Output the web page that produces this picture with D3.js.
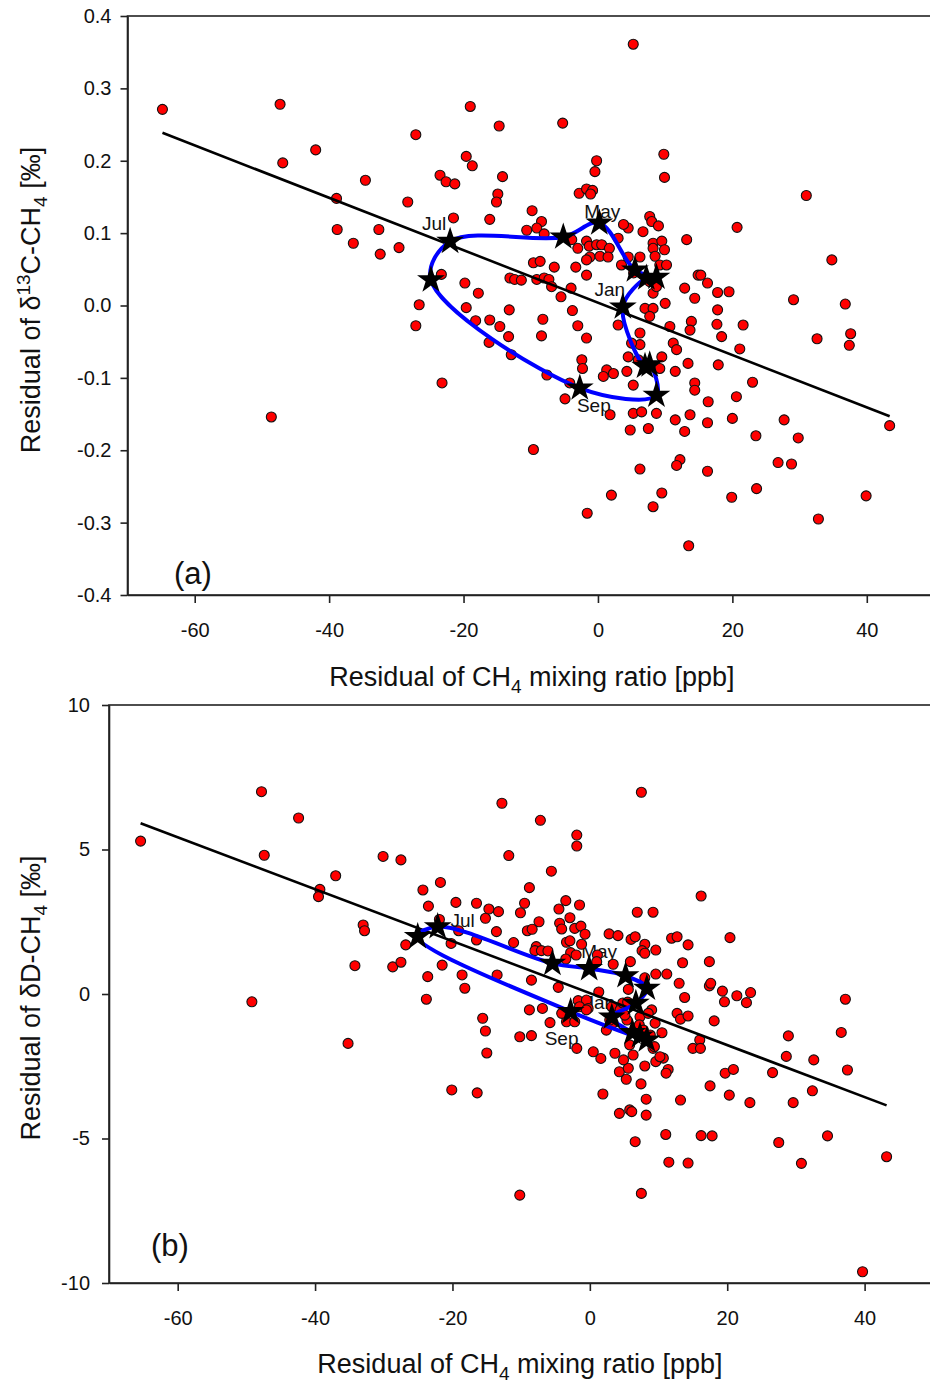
<!DOCTYPE html>
<html>
<head>
<meta charset="utf-8">
<script src="https://cdn.jsdelivr.net/npm/d3@7"></script>
<style>
body { margin: 0; background: #fff; }
text { font-family: "Liberation Sans", Arial, sans-serif; fill: #111; }
</style>
</head>
<body>
<script>
// ---- data ----
// panel (a): residual CH4 [ppb] vs residual d13C [permil]
var pointsA = [
  [-64.8,0.271],[-47.3,0.278],[-46.9,0.197],[-42.0,0.215],[-34.6,0.173],[-27.1,0.236],[-38.9,0.148],[-28.3,0.143],
  [-38.8,0.105],[-32.6,0.105],[-36.4,0.086],[-29.6,0.080],[-32.4,0.071],[-26.6,0.001],[-48.6,-0.154],[-27.1,-0.028],
  [-21.5,0.121],[-23.5,0.180],[-22.6,0.171],[-21.3,0.168],[-16.1,0.119],[-14.9,0.154],[-15.1,0.143],[-9.8,0.131],
  [-10.6,0.104],[-8.4,0.116],[-9.1,0.107],[-8.0,0.099],[-2.8,0.155],[-1.7,0.161],[-0.8,0.159],[-1.1,0.154],
  [-23.3,0.043],[-23.2,-0.107],[-19.8,0.031],[-17.8,0.017],[-19.6,-0.003],[-18.2,-0.021],[-16.1,-0.020],[-14.6,-0.029],
  [-16.2,-0.051],[-13.2,-0.006],[-13.3,-0.043],[-12.9,-0.068],[-13.1,0.038],[-12.4,0.036],[-11.4,0.035],[-9.6,0.059],
  [-8.6,0.061],[-9.1,0.036],[-8.0,0.038],[-7.3,0.036],[-6.9,0.026],[-6.5,0.053],[-5.5,0.012],[-4.0,0.024],
  [-3.3,0.053],[-1.7,0.042],[-3.8,-0.007],[-8.2,-0.019],[-8.4,-0.042],[-3.0,-0.028],[-1.7,-0.045],[-7.6,-0.096],
  [-2.4,-0.075],[-2.3,-0.087],[-4.9,-0.129],[-4.2,-0.107],[-3.9,0.091],[-3.0,0.079],[-1.7,0.089],[-1.3,0.082],
  [-0.2,0.084],[0.55,0.084],[1.7,0.079],[-1.2,0.067],[0.3,0.068],[1.5,0.067],[-1.7,0.063],[3.0,0.093],
  [4.5,0.107],[3.8,0.112],[6.7,0.102],[7.7,0.123],[8.0,0.116],[9.0,0.110],[8.2,0.086],[9.5,0.089],
  [8.2,0.079],[9.9,0.077],[8.5,0.068],[9.2,0.056],[10.2,0.056],[4.5,0.067],[6.25,0.067],[3.5,0.056],
  [5.3,0.045],[7.7,0.033],[8.2,0.017],[8.7,0.026],[3.0,-0.027],[7.0,-0.004],[8.2,-0.004],[7.7,-0.015],
  [10.0,0.003],[10.7,-0.029],[13.9,-0.022],[13.7,-0.034],[12.9,0.024],[14.4,0.010],[13.2,0.091],[14.9,0.042],
  [6.25,-0.038],[6.25,-0.054],[5.0,-0.052],[11.2,-0.052],[11.7,-0.061],[13.4,-0.080],[11.5,-0.091],[9.2,-0.087],
  [9.5,-0.071],[4.5,-0.071],[6.0,-0.075],[1.3,-0.089],[2.3,-0.094],[4.3,-0.091],[0.8,-0.098],[5.25,-0.110],
  [14.4,-0.107],[14.4,-0.117],[13.7,-0.151],[11.5,-0.158],[8.7,-0.149],[5.25,-0.149],[6.5,-0.147],[4.8,-0.172],
  [7.5,-0.170],[1.8,-0.151],[12.9,-0.174],[-9.6,-0.199],[16.3,0.031],[17.8,0.018],[19.5,0.019],[17.8,-0.006],
  [17.7,-0.026],[21.6,-0.027],[18.4,-0.043],[21.1,-0.060],[17.9,-0.082],[16.4,-0.133],[20.6,-0.126],[23.0,-0.106],
  [16.3,-0.162],[20.0,-0.156],[23.5,-0.180],[12.2,-0.213],[11.7,-0.221],[6.25,-0.226],[16.3,-0.229],[23.6,-0.253],
  [19.9,-0.265],[9.5,-0.259],[2.0,-0.262],[8.2,-0.278],[-1.6,-0.287],[13.5,-0.332],[9.8,0.209],[9.9,0.177],
  [31.0,0.152],[20.7,0.108],[34.8,0.063],[15.3,0.042],[29.1,0.008],[36.8,0.002],[32.6,-0.046],[37.6,-0.039],
  [37.4,-0.055],[43.4,-0.166],[27.7,-0.158],[29.8,-0.183],[26.8,-0.217],[28.8,-0.219],[39.9,-0.263],[32.8,-0.295],
  [5.25,0.361],[-19.0,0.275],[-14.7,0.248],[-5.25,0.252],[-0.2,0.200],[-0.45,0.185],[-19.6,0.206],[-18.7,0.193],
  [-14.2,0.178]
];

// panel (b): residual CH4 [ppb] vs residual dD [permil]
var pointsB = [
  [-65.4,5.29],[-47.8,7.00],[-42.4,6.09],[-47.4,4.80],[-37.0,4.09],[-39.3,3.62],[-39.5,3.37],[-30.1,4.76],
  [-27.5,4.64],[-24.3,3.60],[-23.5,3.04],[-33.0,2.39],[-32.8,2.19],[-26.8,1.70],[-34.2,0.98],[-28.7,0.94],
  [-27.5,1.10],[-23.6,0.60],[-23.8,-0.18],[-49.2,-0.27],[-35.2,-1.71],[7.5,6.98],[-12.8,6.60],[-7.2,6.01],
  [-1.9,5.50],[-1.9,5.12],[-11.8,4.79],[-5.6,4.25],[-21.75,3.86],[-8.8,3.68],[-19.5,3.17],[-16.5,3.14],
  [-14.7,2.94],[-13.3,2.85],[-15.2,2.62],[-21.9,2.58],[-9.5,3.14],[-10.1,2.81],[-3.5,3.23],[-4.5,2.94],
  [-2.9,2.64],[-1.5,3.08],[-7.4,2.50],[-9.1,2.19],[-8.4,2.24],[-4.4,2.45],[-4.1,2.25],[-2.2,2.27],
  [-1.3,2.35],[-0.7,2.07],[-13.6,2.16],[-19.1,2.19],[-16.5,1.87],[-20.2,1.75],[-11.1,1.78],[-3.4,1.79],
  [-2.9,1.84],[-1.2,1.72],[-7.8,1.64],[-8.0,1.50],[-7.05,1.50],[-6.1,1.49],[-2.8,1.43],[-2.0,1.35],
  [-3.5,1.21],[1.1,1.35],[1.0,1.12],[2.8,2.08],[4.1,2.02],[6.0,1.89],[6.6,1.98],[6.9,2.83],
  [8.0,1.72],[7.6,1.50],[8.0,1.41],[3.4,1.03],[5.9,1.12],[-21.5,1.00],[-18.6,0.66],[-18.2,0.20],
  [-13.5,0.66],[-8.5,0.48],[-4.6,0.23],[1.3,0.07],[5.6,0.16],[8.0,0.56],[-1.7,-0.23],[-0.5,-0.21],
  [-1.5,-0.44],[-8.8,-0.55],[-6.9,-0.50],[13.5,1.08],[17.4,1.12],[9.6,0.69],[11.2,0.69],[13.0,0.37],
  [17.4,0.28],[17.6,0.37],[19.3,0.10],[19.6,-0.27],[21.4,-0.06],[22.8,-0.30],[23.4,0.05],[13.8,-0.12],
  [-0.25,-0.50],[3.2,-0.44],[5.4,-0.90],[7.3,-0.79],[9.0,-0.55],[8.5,-0.67],[9.5,-1.01],[10.5,-1.34],
  [12.7,-0.67],[13.2,-0.87],[14.3,-0.76],[18.1,-0.93],[16.0,-1.59],[15.0,-1.88],[16.1,-1.88],[19.7,-2.74],
  [20.9,-2.61],[17.5,-3.18],[20.3,-3.50],[23.3,-3.76],[13.2,-3.67],[16.2,-4.90],[17.8,-4.91],[11.05,-4.86],
  [11.5,-5.82],[14.3,-5.85],[7.5,-6.90],[6.6,-5.11],[8.2,-4.19],[4.3,-4.13],[5.8,-4.01],[6.1,-4.07],
  [8.2,-3.64],[1.9,-3.46],[7.45,-3.11],[5.3,-2.95],[4.3,-2.69],[5.6,-2.57],[4.9,-2.28],[3.65,-2.05],
  [6.3,-2.11],[8.0,-2.49],[9.6,-2.34],[10.7,-2.22],[11.4,-2.61],[11.1,-2.74],[10.2,-2.17],[5.8,-1.76],
  [9.2,-1.88],[1.6,-2.23],[0.5,-2.0],[-1.9,-1.88],[4.4,-0.55],[4.8,-0.31],[5.5,-0.28],[5.1,-0.73],
  [3.4,-1.0],[2.4,-1.25],[2.9,-0.9],[7.2,-1.07],[7.8,-1.25],[8.8,-1.42],[9.4,-1.82],[-3.4,-0.96],
  [-2.2,-0.96],[-4.1,-0.67],[-0.5,-0.55],[16.2,3.39],[20.4,1.95],[28.9,-1.45],[36.6,-1.33],[37.2,-0.18],
  [28.6,-2.16],[32.6,-2.28],[37.5,-2.63],[26.6,-2.72],[29.6,-3.76],[32.4,-3.35],[27.5,-5.14],[34.6,-4.91],
  [30.8,-5.86],[43.2,-5.63],[39.7,-9.61],[-10.2,-6.96],[-20.1,-3.32],[-16.4,-3.42],[-15.2,-1.28],[-15.0,-2.04],
  [-10.2,-1.48],[-8.5,-1.44],[-15.6,-0.84],[-5.8,-0.99],[9.2,2.83],[11.9,1.93],[12.7,1.98],[14.3,1.70],
  [9.6,1.52]
];

// monthly mean cycle (Jan..Dec)
var months = ["Jan","Feb","Mar","Apr","May","Jun","Jul","Aug","Sep","Oct","Nov","Dec"];
var cycleA = [[3.7,-0.002],[7.2,0.038],[8.7,0.039],[5.5,0.049],[0.2,0.114],[-5.16,0.0946],
              [-22.0,0.0886],[-24.85,0.0355],[-2.7,-0.114],[8.7,-0.124],[7.7,-0.082],[7.0,-0.084]];
var cycleB = [[3.2,-0.80],[6.7,-0.32],[8.3,0.20],[5.2,0.63],[-0.1,0.88],[-5.45,1.06],
              [-22.15,2.33],[-25.06,1.985],[-2.8,-0.61],[8.3,-1.59],[7.3,-1.45],[6.2,-1.33]];
var labelled = ["Jan","May","Jul","Sep"];

// linear fits: [intercept, slope]
var fitA = [0.004, -0.00362];
var fitB = [0.03, -0.0899];

var xTicks = [-60, -40, -20, 0, 20, 40];
var yTicksA = [-0.4, -0.3, -0.2, -0.1, 0, 0.1, 0.2, 0.3, 0.4];
var yTicksB = [-10, -5, 0, 5, 10];

// ---- drawing ----
var svg = d3.select("body").append("svg")
  .attr("width", 930)
  .attr("height", 1383);

function drawPanel(o) {
  var x = d3.scaleLinear().domain([-70, 50]).range(o.xRange);
  var y = d3.scaleLinear().domain(o.yDomain).range(o.yRange);
  var g = svg.append("g");

  // axes
  g.append("g")
    .attr("transform", "translate(0," + o.yRange[0] + ")")
    .call(d3.axisBottom(x).tickValues(xTicks).tickSize(8).tickSizeOuter(0).tickPadding(20)
      .tickFormat(function(d) { return String(d); }));
  g.append("g")
    .attr("transform", "translate(" + o.xRange[0] + ",0)")
    .call(d3.axisLeft(y).tickValues(o.yTicks).tickSize(7).tickSizeOuter(0).tickPadding(o.yPad)
      .tickFormat(o.yFormat));
  g.selectAll(".tick text").attr("font-size", 20).attr("fill", "#111")
    .attr("font-family", "Liberation Sans, Arial, sans-serif");
  g.selectAll(".domain, .tick line").attr("stroke", "#222").attr("stroke-width", 1.6);

  // frame
  g.append("rect")
    .attr("x", o.xRange[0]).attr("y", o.yRange[1])
    .attr("width", o.xRange[1] - o.xRange[0]).attr("height", o.yRange[0] - o.yRange[1])
    .attr("fill", "none").attr("stroke", "#222").attr("stroke-width", 1.6);

  // month labels (under the symbols)
  o.cycle.forEach(function(d, i) {
    var m = months[i];
    if (labelled.indexOf(m) < 0) return;
    var off = o.labelOffset[m];
    g.append("text")
      .attr("x", x(d[0]) + off[0]).attr("y", y(d[1]) + off[1] + 7)
      .attr("text-anchor", "middle")
      .attr("font-size", 19).attr("fill", "#222")
      .text(m);
  });

  // scatter
  g.selectAll("circle.pt")
    .data(o.points)
    .enter().append("circle")
    .attr("class", "pt")
    .attr("cx", function(d) { return x(d[0]); })
    .attr("cy", function(d) { return y(d[1]); })
    .attr("r", 5)
    .attr("fill", "#ff0000")
    .attr("stroke", "#111")
    .attr("stroke-width", 1.1);

  // regression line over the data range
  var ext = d3.extent(o.points, function(d) { return d[0]; });
  g.append("line")
    .attr("x1", x(ext[0])).attr("y1", y(o.fit[0] + o.fit[1] * ext[0]))
    .attr("x2", x(ext[1])).attr("y2", y(o.fit[0] + o.fit[1] * ext[1]))
    .attr("stroke", "#000").attr("stroke-width", 2.6);

  // seasonal loop
  var loop = d3.line()
    .x(function(d) { return x(d[0]); })
    .y(function(d) { return y(d[1]); })
    .curve(d3.curveCatmullRomClosed.alpha(0.5));
  g.append("path")
    .attr("d", loop(o.cycle))
    .attr("fill", "none")
    .attr("stroke", "#0000ff")
    .attr("stroke-width", 4);

  // monthly stars
  g.selectAll("path.star")
    .data(o.cycle)
    .enter().append("path")
    .attr("class", "star")
    .attr("transform", function(d) { return "translate(" + x(d[0]) + "," + y(d[1]) + ")"; })
    .attr("d", d3.symbol().type(d3.symbolStar).size(240))
    .attr("fill", "#000");

  // panel letter
  g.append("text")
    .attr("x", o.letterPos[0]).attr("y", o.letterPos[1])
    .attr("font-size", 31)
    .text(o.letter);
}

drawPanel({
  points: pointsA, cycle: cycleA, fit: fitA,
  xRange: [127.5, 934], yDomain: [-0.4, 0.4], yRange: [595, 16],
  yTicks: yTicksA, yFormat: function(d) { return d.toFixed(1); }, yPad: 9,
  labelOffset: { Jan: [-13, -18], May: [3, -12], Jul: [-16, -18], Sep: [14, 17] },
  letter: "(a)", letterPos: [174, 584]
});

drawPanel({
  points: pointsB, cycle: cycleB, fit: fitB,
  xRange: [109, 933.3], yDomain: [-10, 10], yRange: [1283, 705],
  yTicks: yTicksB, yFormat: function(d) { return String(d); }, yPad: 12,
  labelOffset: { Jan: [-12, -15], May: [10, -18], Jul: [25, -7], Sep: [-9, 26] },
  letter: "(b)", letterPos: [151, 1256]
});

// axis titles
function xTitle(cx, by) {
  var t = svg.append("text").attr("x", cx).attr("y", by)
    .attr("text-anchor", "middle").attr("font-size", 27);
  t.append("tspan").text("Residual of CH");
  t.append("tspan").attr("dy", 7).attr("font-size", 19).text("4");
  t.append("tspan").attr("dy", -7).text(" mixing ratio [ppb]");
}
xTitle(532, 686);
xTitle(520, 1373);

var ta = svg.append("text")
  .attr("transform", "translate(40,300) rotate(-90)")
  .attr("text-anchor", "middle").attr("font-size", 27);
ta.append("tspan").text("Residual of \u03B4");
ta.append("tspan").attr("dy", -10).attr("font-size", 19).text("13");
ta.append("tspan").attr("dy", 10).text("C-CH");
ta.append("tspan").attr("dy", 7).attr("font-size", 19).text("4");
ta.append("tspan").attr("dy", -7).text(" [\u2030]");

var tb = svg.append("text")
  .attr("transform", "translate(40,998) rotate(-90)")
  .attr("text-anchor", "middle").attr("font-size", 27);
tb.append("tspan").text("Residual of \u03B4D-CH");
tb.append("tspan").attr("dy", 7).attr("font-size", 19).text("4");
tb.append("tspan").attr("dy", -7).text(" [\u2030]");
</script>
</body>
</html>
